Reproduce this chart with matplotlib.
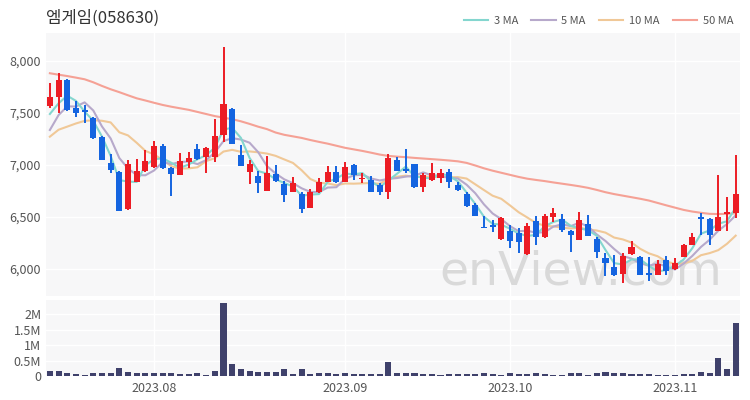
########## Candle chart of 엠게임(058630) with moving averages and volume

import numpy as np
import pandas as pd
import matplotlib
matplotlib.use("Agg")
import matplotlib.pyplot as plt

plt.rcParams['font.family'] = ['Noto Sans CJK KR', 'DejaVu Sans']

########## Data
start_date   = "2023-07-14"
end_date     = "2023-11-10"
holidays     = ["2023-08-15", "2023-09-28", "2023-09-29", "2023-10-02", "2023-10-03", "2023-10-09"]

opens  = [7567, 7657, 7817, 7551, 7530, 7450, 7270, 7016, 6930, 6575,
          6840, 6946, 6985, 7183, 6975, 6905, 7025, 7154, 7075, 7080,
          7290, 7540, 7096, 6936, 6894, 6753, 6910, 6814, 6744, 6721,
          6590, 6738, 6840, 6929, 6840, 7000, 6862, 6856, 6808, 6744,
          7048, 6962, 7007, 6792, 6856, 6878, 6929, 6808, 6718, 6615,
          6407, 6423, 6289, 6369, 6343, 6141, 6462, 6305, 6497, 6478,
          6365, 6279, 6433, 6285, 6103, 6022, 5949, 6141, 6119, 5958,
          5942, 6087, 5997, 6119, 6231, 6503, 6481, 6369, 6529, 6536]
highs  = [7791, 7882, 7830, 7618, 7574, 7460, 7280, 7103, 6942, 7048,
          7054, 7144, 7231, 7202, 6985, 7112, 7122, 7202, 7170, 7445,
          8131, 7545, 7192, 7048, 6946, 7087, 7000, 6849, 6888, 6744,
          6766, 6875, 6990, 6990, 7032, 7005, 6920, 6894, 6830, 7106,
          7074, 7154, 7010, 6920, 7016, 6958, 6962, 6840, 6744, 6632,
          6510, 6471, 6495, 6423, 6391, 6439, 6513, 6529, 6584, 6529,
          6370, 6545, 6519, 6311, 6151, 6135, 6151, 6269, 6125, 6113,
          6087, 6125, 6103, 6240, 6349, 6536, 6494, 6904, 6696, 7096]
lows   = [7548, 7497, 7520, 7458, 7407, 7250, 7045, 6926, 6560, 6570,
          6835, 6936, 6975, 6958, 6705, 6900, 6975, 7048, 6920, 7026,
          7224, 7200, 6990, 6814, 6734, 6750, 6840, 6647, 6740, 6536,
          6585, 6735, 6835, 6830, 6835, 6856, 6824, 6740, 6712, 6670,
          6940, 6920, 6780, 6744, 6850, 6824, 6776, 6750, 6600, 6505,
          6391, 6359, 6280, 6199, 6151, 6135, 6231, 6300, 6455, 6359,
          6160, 6275, 6315, 6103, 5933, 5935, 5869, 6135, 5940, 5888,
          5938, 5942, 5990, 6115, 6228, 6327, 6231, 6365, 6369, 6487]
closes = [7651, 7817, 7529, 7503, 7510, 7260, 7050, 6952, 6560, 7010,
          6940, 7042, 7183, 6968, 6910, 7040, 7065, 7058, 7160, 7280,
          7585, 7205, 6993, 7007, 6824, 6920, 6846, 6712, 6824, 6577,
          6744, 6840, 6929, 6840, 6985, 6904, 6878, 6744, 6744, 7064,
          6942, 6946, 6786, 6904, 6920, 6926, 6840, 6760, 6606, 6510,
          6391, 6401, 6487, 6272, 6263, 6417, 6305, 6510, 6542, 6375,
          6327, 6471, 6321, 6166, 6061, 5942, 6125, 6209, 5942, 5939,
          6048, 5981, 6061, 6231, 6305, 6481, 6327, 6497, 6551, 6721]
volumes = [0.165, 0.165, 0.11, 0.055, 0.033, 0.09, 0.11, 0.11, 0.25, 0.13,
           0.09, 0.09, 0.09, 0.11, 0.11, 0.08, 0.08, 0.11, 0.04, 0.165,
           2.36, 0.40, 0.22, 0.165, 0.13, 0.13, 0.13, 0.22, 0.08, 0.22,
           0.08, 0.11, 0.11, 0.06, 0.11, 0.08, 0.06, 0.06, 0.08, 0.47,
           0.11, 0.11, 0.11, 0.08, 0.08, 0.04, 0.08, 0.06, 0.08, 0.06,
           0.09, 0.06, 0.04, 0.11, 0.08, 0.08, 0.11, 0.06, 0.04, 0.04,
           0.11, 0.11, 0.04, 0.11, 0.14, 0.09, 0.11, 0.06, 0.06, 0.06,
           0.04, 0.03, 0.03, 0.06, 0.06, 0.13, 0.09, 0.57, 0.22, 1.72]   # millions

# closes before the first visible day (estimated, only used to start the short MAs)
prior_close = [7150, 7230, 7200, 7260, 7200, 7100, 7110, 7510, 7310]

# 50 MA needs a long history that is not on the chart
ma50 = [7882, 7868, 7855, 7840, 7824, 7795, 7760, 7728, 7700, 7670,
        7641, 7620, 7598, 7577, 7560, 7545, 7530, 7510, 7490, 7470,
        7455, 7440, 7420, 7395, 7368, 7345, 7312, 7290, 7275, 7260,
        7240, 7222, 7205, 7185, 7165, 7150, 7135, 7118, 7100, 7087,
        7080, 7075, 7068, 7062, 7056, 7050, 7043, 7035, 7020, 6995,
        6968, 6945, 6925, 6905, 6885, 6868, 6856, 6845, 6832, 6820,
        6808, 6795, 6780, 6760, 6738, 6720, 6705, 6690, 6675, 6658,
        6635, 6612, 6590, 6568, 6552, 6540, 6530, 6528, 6530, 6535]

price_ticks = [6000, 6500, 7000, 7500, 8000]
vol_ticks   = [0, 0.5, 1, 1.5, 2]
vol_labels  = ["0", "0.5M", "1M", "1.5M", "2M"]

########## Dates and moving averages
dates = pd.bdate_range(start_date, end_date)
dates = dates[~dates.isin(pd.to_datetime(holidays))]
n     = len(dates)
idx   = np.arange(n)

all_close = pd.Series(prior_close + closes)
ma3  = all_close.rolling(3,  min_periods=1).mean().values[len(prior_close):]
ma5  = all_close.rolling(5,  min_periods=1).mean().values[len(prior_close):]
ma10 = all_close.rolling(10, min_periods=1).mean().values[len(prior_close):]

month_pos    = [i for i in range(1, n) if dates[i].month != dates[i-1].month]
month_labels = [dates[i].strftime("%Y.%m") for i in month_pos]

########## Colors
up_col   = '#ec1c24'
down_col = '#1464e0'
bg_col   = '#f7f7f8'
txt_col  = '#555555'
ma_cols  = {'3 MA': '#84d6cf', '5 MA': '#b7a9cb', '10 MA': '#f0c897', '50 MA': '#f5a195'}

########## Plot
fig = plt.figure(figsize=(7.5, 4.0), dpi=100)
fig.set_facecolor('w')

ax  = fig.add_axes([0.0613, 0.26, 0.9254, 0.6575])
axv = fig.add_axes([0.0613, 0.06, 0.9254, 0.19])

for a in (ax, axv):
    a.set_facecolor(bg_col)
    for s in a.spines.values():
        s.set_visible(False)
    a.tick_params(length=0, colors=txt_col, labelsize=9)
    a.set_xlim(-0.45, n - 0.5)
    a.set_xticks(month_pos)
    a.grid(True, color='white', linewidth=1.0)
    a.set_axisbelow(True)

# watermark
ax.text(0.77, 0.09, "enView.com", transform=ax.transAxes, fontsize=34,
        color='#d9d9d9', ha='center', va='center', zorder=1, family='DejaVu Sans')

# moving averages
ax.plot(idx, ma50, color=ma_cols['50 MA'], lw=1.5, label='50 MA', zorder=2)
ax.plot(idx, ma10, color=ma_cols['10 MA'], lw=1.5, label='10 MA', zorder=2)
ax.plot(idx, ma5,  color=ma_cols['5 MA'],  lw=1.5, label='5 MA',  zorder=2)
ax.plot(idx, ma3,  color=ma_cols['3 MA'],  lw=1.5, label='3 MA',  zorder=2)

# candles
o = np.array(opens); h = np.array(highs); l = np.array(lows); c = np.array(closes)
cols = np.where(c >= o, up_col, down_col)
ax.vlines(idx, l, h, colors=cols, lw=1.4, zorder=3)
body_h = np.maximum(np.abs(c - o), 8)
ax.bar(idx, body_h, bottom=np.minimum(o, c), width=0.7, color=cols, zorder=4)

ax.set_ylim(5740, 8269)
ax.set_yticks(price_ticks)
ax.set_yticklabels(["{:,}".format(t) for t in price_ticks])
ax.set_xticklabels([])

# legend
handles, labels = ax.get_legend_handles_labels()
order = [3, 2, 1, 0]
leg = ax.legend([handles[i] for i in order], [labels[i] for i in order],
                loc='lower right', bbox_to_anchor=(1.0, 1.0), ncol=4, frameon=False,
                fontsize=8, handlelength=2.2, columnspacing=1.2, handletextpad=0.5,
                borderaxespad=0.2)
for t in leg.get_texts():
    t.set_color(txt_col)

fig.text(0.0613, 0.955, "엠게임(058630)", fontsize=12, color='#333333', va='center')

# volume
axv.bar(idx, volumes, width=0.7, color='#3f416b', zorder=3)
axv.set_ylim(0, 2.47)
axv.set_yticks(vol_ticks)
axv.set_yticklabels(vol_labels)
axv.set_xticklabels(month_labels)
axv.tick_params(axis='x', pad=4)

plt.savefig('out.png', format='png', dpi=100)
